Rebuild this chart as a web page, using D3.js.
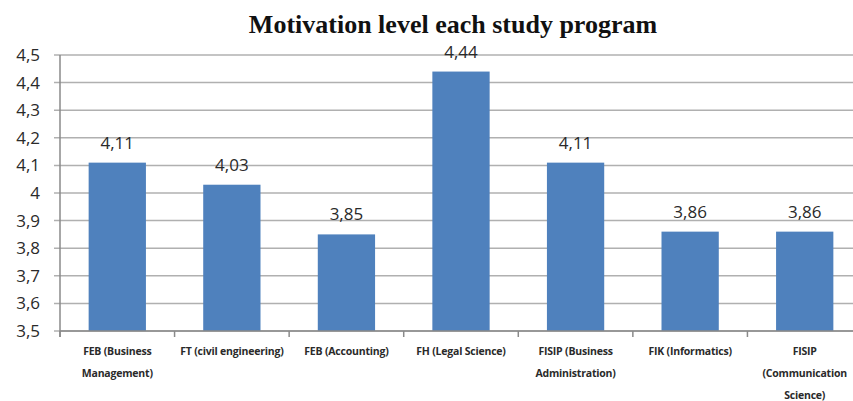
<!DOCTYPE html>
<html>
<head>
<meta charset="utf-8">
<script src="https://cdn.jsdelivr.net/npm/d3@7"></script>
<style>
  body { margin: 0; background: #fff; }
  svg { display: block; }
</style>
</head>
<body>
<div id="chart"></div>
<script>
// data
const programs = [
  ['FEB (Business', 'Management)'],
  ['FT (civil engineering)'],
  ['FEB (Accounting)'],
  ['FH (Legal Science)'],
  ['FISIP (Business', 'Administration)'],
  ['FIK (Informatics)'],
  ['FISIP', '(Communication', 'Science)']
];
const motivation = [4.11, 4.03, 3.85, 4.44, 4.11, 3.86, 3.86];
const yTicks = [3.5, 3.6, 3.7, 3.8, 3.9, 4.0, 4.1, 4.2, 4.3, 4.4, 4.5];

const width = 853,
  height = 401,
  margin = { top: 55, bottom: 70, left: 60, right: -9 };

const fmt = v => d3.format('.2~f')(v).replace('.', ',');

const svg = d3.select('#chart')
  .append('svg')
  .attr('width', width)
  .attr('height', height);

const xScale = d3.scaleBand()
  .domain(d3.range(programs.length))
  .range([margin.left, width - margin.right])
  .paddingInner(0.5)
  .paddingOuter(0.25);

const yScale = d3.scaleLinear()
  .domain([3.5, 4.5])
  .range([height - margin.bottom, margin.top]);

// title
svg.append('text')
  .attr('x', 453)
  .attr('y', 33)
  .attr('text-anchor', 'middle')
  .attr('font-family', '"Liberation Serif", "Times New Roman", serif')
  .attr('font-weight', 'bold')
  .attr('font-size', 26)
  .attr('fill', '#111')
  .text('Motivation level each study program');

// gridlines
svg.append('g')
  .selectAll('line')
  .data(yTicks)
  .join('line')
  .attr('x1', margin.left - 6)
  .attr('x2', width)
  .attr('y1', d => yScale(d))
  .attr('y2', d => yScale(d))
  .attr('stroke', '#b0b0b0')
  .attr('stroke-width', 1.5);

// y labels
const gy = svg.append('g')
  .attr('transform', `translate(${margin.left - 6},0)`)
  .call(d3.axisLeft(yScale)
    .tickValues(yTicks)
    .tickSize(0)
    .tickPadding(14)
    .tickFormat(d => fmt(d)));
gy.select('.domain').remove();
gy.selectAll('text')
  .attr('font-family', '"Open Sans", "Noto Sans", sans-serif')
  .attr('font-size', 17)
  .attr('font-weight', 500)
  .attr('fill', '#2a2a2a');

// bars
svg.append('g')
  .selectAll('rect')
  .data(motivation)
  .join('rect')
  .attr('x', (d, i) => xScale(i))
  .attr('width', xScale.bandwidth())
  .attr('y', d => yScale(d))
  .attr('height', d => yScale(3.5) - yScale(d))
  .attr('fill', '#4f81bd');

// value labels
svg.append('g')
  .selectAll('text')
  .data(motivation)
  .join('text')
  .attr('x', (d, i) => xScale(i) + xScale.bandwidth() / 2)
  .attr('y', d => yScale(d) - 14)
  .attr('text-anchor', 'middle')
  .attr('font-family', '"Open Sans", "Noto Sans", sans-serif')
  .attr('font-size', 17)
  .attr('font-weight', 500)
  .attr('fill', '#2a2a2a')
  .text(d => fmt(d));

// y axis line
svg.append('line')
  .attr('x1', margin.left).attr('x2', margin.left)
  .attr('y1', margin.top).attr('y2', yScale(3.5) + 6)
  .attr('stroke', '#8a8a8a')
  .attr('stroke-width', 1.5);

// x axis with category ticks
const step = xScale.step();
const xg = svg.append('g')
  .attr('transform', `translate(0,${yScale(3.5)})`);
xg.append('line')
  .attr('x1', margin.left).attr('x2', width)
  .attr('stroke', '#8a8a8a').attr('stroke-width', 1.5);
xg.selectAll('.tick')
  .data(d3.range(programs.length + 1))
  .join('line')
  .attr('class', 'tick')
  .attr('x1', i => margin.left + i * step)
  .attr('x2', i => margin.left + i * step)
  .attr('y1', 0).attr('y2', 6)
  .attr('stroke', '#8a8a8a').attr('stroke-width', 1.5);

xg.selectAll('.lbl')
  .data(programs)
  .join('text')
  .attr('class', 'lbl')
  .attr('text-anchor', 'middle')
  .attr('font-family', '"Open Sans", "Noto Sans", sans-serif')
  .attr('font-weight', 'bold')
  .attr('font-size', 10.5)
  .attr('letter-spacing', -0.2)
  .attr('fill', '#2a2a2a')
  .each(function (lines, i) {
    d3.select(this).selectAll('tspan')
      .data(lines)
      .join('tspan')
      .attr('x', xScale(i) + xScale.bandwidth() / 2)
      .attr('y', (l, j) => 24 + j * 22)
      .text(l => l);
  });
</script>
</body>
</html>
